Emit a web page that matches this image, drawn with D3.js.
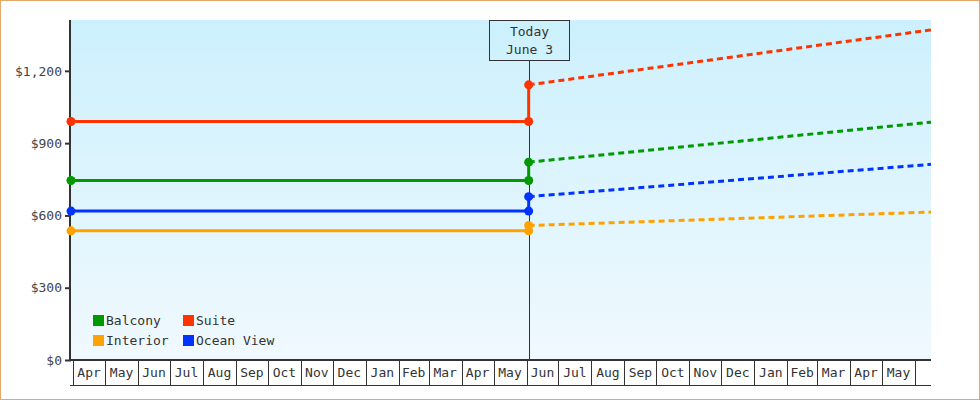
<!DOCTYPE html>
<html>
<head>
<meta charset="utf-8">
<script src="https://cdn.jsdelivr.net/npm/d3@7"></script>
<style>
  body { margin: 0; background: #fff; }
  svg { display: block; font-family: "DejaVu Sans Mono", monospace; }
</style>
</head>
<body>
<svg id="chart"></svg>
<script>
// cabin categories, legend order (row-wise)
const categories = ["Balcony", "Suite", "Interior", "Ocean View"];
const colors = ["#009900", "#ff3300", "#ffa200", "#0033ff"];

// price history and projection
const pastPrice = [745, 990, 536, 618];    // flat price before today
const todayPrice = [821, 1142, 558, 678];  // price after the jump on today
const endPrice = [987, 1370, 614, 812];    // projected at end of range

const startDate = "2021-03-30";
const todayDate = "2022-06-03";
const endDate = "2023-06-16";
const todayLabel = ["Today", "June 3"];

const yTicks = [0, 300, 600, 900, 1200];
const yMax = 1411;

const width = 980, height = 400;
const margin = {top: 20, right: 49, bottom: 40, left: 71};
const parse = d3.utcParse("%Y-%m-%d");

const svg = d3.select("#chart").attr("width", width).attr("height", height);

const x = d3.scaleUtc([parse(startDate), parse(endDate)], [margin.left, width - margin.right]);
const y = d3.scaleLinear([0, yMax], [height - margin.bottom, margin.top]);

const defs = svg.append("defs");
const grad = defs.append("linearGradient").attr("id", "bg").attr("x1", 0).attr("y1", 0).attr("x2", 0).attr("y2", 1);
grad.append("stop").attr("offset", "0%").attr("stop-color", "#ccf0fd");
grad.append("stop").attr("offset", "100%").attr("stop-color", "#f0f9fe");

// frame
svg.append("rect")
    .attr("x", 0.5).attr("y", 0.5)
    .attr("width", width - 1).attr("height", height - 1)
    .attr("fill", "#fff")
    .attr("stroke", "#e6a868");

// plot background
svg.append("rect")
    .attr("x", margin.left).attr("y", margin.top)
    .attr("width", width - margin.right - margin.left)
    .attr("height", height - margin.bottom - margin.top)
    .attr("fill", "url(#bg)");

// month axis cells
const y0 = y(0), yB = y0 + 25;
const months = d3.utcMonth.range(d3.utcMonth.ceil(parse(startDate)), parse(endDate));
const monthAxis = svg.append("g").attr("stroke", "#333");
monthAxis.append("line")
    .attr("x1", margin.left - 1).attr("x2", width - margin.right)
    .attr("y1", yB + 0.5).attr("y2", yB + 0.5);
monthAxis.selectAll("line.sep")
  .data(months)
  .join("line")
    .attr("class", "sep")
    .attr("x1", d => Math.round(x(d)) + 0.5).attr("x2", d => Math.round(x(d)) + 0.5)
    .attr("y1", y0).attr("y2", yB);
svg.append("g")
    .attr("fill", "#333")
    .attr("font-size", 13)
    .attr("text-anchor", "middle")
  .selectAll("text")
  .data(months.slice(0, -1))
  .join("text")
    .attr("x", d => (x(d) + x(d3.utcMonth.offset(d, 1))) / 2)
    .attr("y", y0 + 17)
    .text(d3.utcFormat("%b"));

// y axis
const yAxis = svg.append("g")
    .attr("transform", `translate(${margin.left},0)`)
    .call(d3.axisLeft(y).tickValues(yTicks).tickSize(6).tickPadding(3).tickFormat(d => "$" + d3.format(",")(d)));
yAxis.select(".domain").remove();
yAxis.selectAll(".tick line").attr("stroke", "#333").attr("stroke-width", 2);
yAxis.selectAll(".tick text").attr("fill", "#444").attr("font-size", 13).attr("font-family", "DejaVu Sans Mono");

svg.append("line")
    .attr("x1", margin.left - 1).attr("x2", margin.left - 1)
    .attr("y1", margin.top).attr("y2", y0 + 1)
    .attr("stroke", "#333").attr("stroke-width", 2);
svg.append("line")
    .attr("x1", margin.left - 2).attr("x2", width - margin.right)
    .attr("y1", y0).attr("y2", y0)
    .attr("stroke", "#333").attr("stroke-width", 2);

// today marker
const xt = Math.round(x(parse(todayDate))) + 0.5;
svg.append("line")
    .attr("x1", xt).attr("x2", xt)
    .attr("y1", 61).attr("y2", y0)
    .attr("stroke", "#333");
svg.append("rect")
    .attr("x", xt - 40).attr("y", 20.5)
    .attr("width", 80).attr("height", 40)
    .attr("fill", "none").attr("stroke", "#333");
svg.append("g")
    .attr("fill", "#333").attr("font-size", 13).attr("text-anchor", "middle")
  .selectAll("text")
  .data(todayLabel)
  .join("text")
    .attr("x", xt)
    .attr("y", (d, i) => 36 + i * 18)
    .text(d => d);

// series
const line = d3.line().x(d => x(d[0])).y(d => y(d[1]));
const series = categories.map((c, i) => ({
  name: c,
  color: colors[i],
  past: [[parse(startDate), pastPrice[i]], [parse(todayDate), pastPrice[i]], [parse(todayDate), todayPrice[i]]],
  future: [[parse(todayDate), todayPrice[i]], [parse(endDate), endPrice[i]]]
}));

const sg = svg.append("g").selectAll("g").data(series).join("g");
sg.append("path")
    .attr("fill", "none")
    .attr("stroke", d => d.color)
    .attr("stroke-width", 3)
    .attr("stroke-dasharray", "6,4")
    .attr("d", d => line(d.future));
sg.append("path")
    .attr("fill", "none")
    .attr("stroke", d => d.color)
    .attr("stroke-width", 3)
    .attr("d", d => line(d.past));
sg.selectAll("circle")
  .data(d => [d.past[0], d.past[1], d.past[2]].map(p => ({p, color: d.color})))
  .join("circle")
    .attr("cx", d => x(d.p[0]))
    .attr("cy", d => y(d.p[1]))
    .attr("r", 4.5)
    .attr("fill", d => d.color);

// legend
const legend = svg.append("g").attr("font-size", 13).attr("fill", "#333");
const li = legend.selectAll("g")
  .data(series)
  .join("g")
    .attr("transform", (d, i) => `translate(${93 + (i % 2) * 90},${315 + Math.floor(i / 2) * 20})`);
li.append("rect").attr("width", 11).attr("height", 11).attr("fill", d => d.color);
li.append("text").attr("x", 13).attr("y", 10).text(d => d.name);
</script>
</body>
</html>
